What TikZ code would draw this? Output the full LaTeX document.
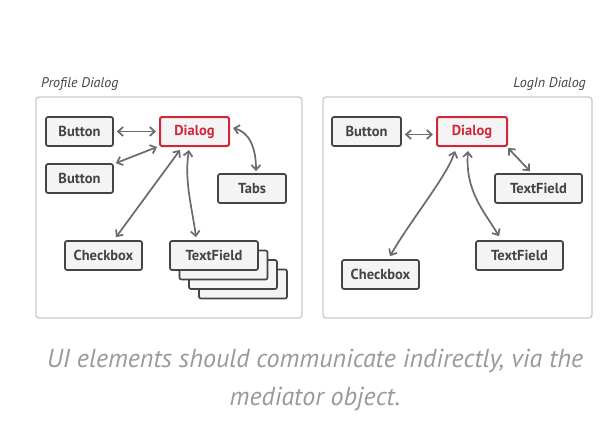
\documentclass[tikz,border=0pt]{standalone}
\usepackage{fontspec}
\setmainfont{PT Sans}
\usetikzlibrary{arrows.meta,calc}
\definecolor{boxfill}{HTML}{F4F4F4}
\definecolor{boxdraw}{HTML}{444444}
\definecolor{dlgred}{HTML}{D0283A}
\definecolor{arrowgray}{HTML}{6B6B6B}
\definecolor{framegray}{HTML}{CACACA}
\definecolor{capgray}{HTML}{9A9A9A}
\definecolor{lblgray}{HTML}{444444}
\begin{document}
\begin{tikzpicture}[x=1pt,y=-1pt,
  comp/.style={draw=boxdraw,fill=boxfill,line width=1.7pt,rounded corners=2pt,
    minimum height=29pt,inner sep=0pt,text=boxdraw,
    font=\fontsize{14.5}{16}\selectfont\bfseries},
  dlg/.style={comp,draw=dlgred,text=dlgred,line width=2pt},
  frame/.style={draw=framegray,line width=1.3pt,rounded corners=3pt},
  link/.style={draw=arrowgray,line width=1.7pt,
    {Straight Barb[length=5pt,width=9pt]}-{Straight Barb[length=5pt,width=9pt]}},
  lbl/.style={text=lblgray,font=\fontsize{14}{16}\selectfont\itshape,inner sep=0pt},
  captext/.style={text=capgray,inner sep=0pt,anchor=base,font=\fontsize{26}{30}\selectfont\itshape}]
\useasboundingbox[fill=white] (0,0) rectangle (615,432);
% frames
\draw[frame] (36,97) rectangle (302,318);
\draw[frame] (323,97) rectangle (592,318);
\node[lbl,anchor=west] (l1) at (41,84) {Profile Dialog};
\node[lbl,anchor=east] (l2) at (586,84) {LogIn Dialog};
% left panel
\node[comp,minimum width=88pt] (tfd) at (243,284) {};
\node[comp,minimum width=88pt] (tfc) at (233,274.5) {};
\node[comp,minimum width=88pt] (tfb) at (223.5,265) {};
\node[comp,minimum width=88pt] (tf) at (214,255.5) {TextField};
\node[comp,minimum width=67pt] (b1) at (79.5,131.5) {Button};
\node[dlg,minimum width=69pt] (d1) at (194.5,131.5) {Dialog};
\node[comp,minimum width=67pt] (b2) at (79.5,178.5) {Button};
\node[comp,minimum width=68pt] (tabs) at (252,188.5) {Tabs};
\node[comp,minimum width=77pt] (cb) at (103.5,255.5) {Checkbox};
\draw[link] ($(b1.east)+(3,0)$) -- ($(d1.west)+(-3,0)$);
\draw[link] ($(b2.north east)+(2,0)$) -- ($(d1.south west)+(-2,0)$);
\draw[link] ($(cb.north)+(12.5,-3)$) -- ($(d1.south)+(-14.5,3)$);
\draw[link] ($(d1.south)+(-5.5,3)$) .. controls +(-5,30) and +(-4,-30) .. ($(tf.north)+(-18,-3)$);
\draw[link] ($(d1.east)+(3,-3.5)$) .. controls +(16,4) and +(0,-24) .. ($(tabs.north)+(4,-2)$);
% right panel
\node[comp,minimum width=69pt] (b3) at (366.5,131.5) {Button};
\node[dlg,minimum width=70pt] (d2) at (472,131.5) {Dialog};
\node[comp,minimum width=87pt] (tf2) at (538.5,188.5) {TextField};
\node[comp,minimum width=87pt] (tf3) at (519.5,255.5) {TextField};
\node[comp,minimum width=77pt] (cb2) at (380.5,274.5) {Checkbox};
\draw[link] ($(b3.east)+(3,3)$) -- ($(d2.west)+(-3,3)$);
\draw[link] ($(cb2.north)+(9.5,-3)$) .. controls +(20,-35) and +(-8,25) .. ($(d2.south)+(-17,4)$);
\draw[link] ($(d2.south)+(-4,4)$) .. controls +(-3,40) and +(-15,-25) .. ($(tf3.north)+(-20.5,-4)$);
\draw[link] ($(d2.south east)+(0,1)$) -- ($(tf2.north)+(-8.5,-2)$);
% caption
\node[captext] (cap1) at (315,367) {UI elements should communicate indirectly, via the};
\node[captext] (cap2) at (315,405) {mediator object.};
\end{tikzpicture}
\end{document}
